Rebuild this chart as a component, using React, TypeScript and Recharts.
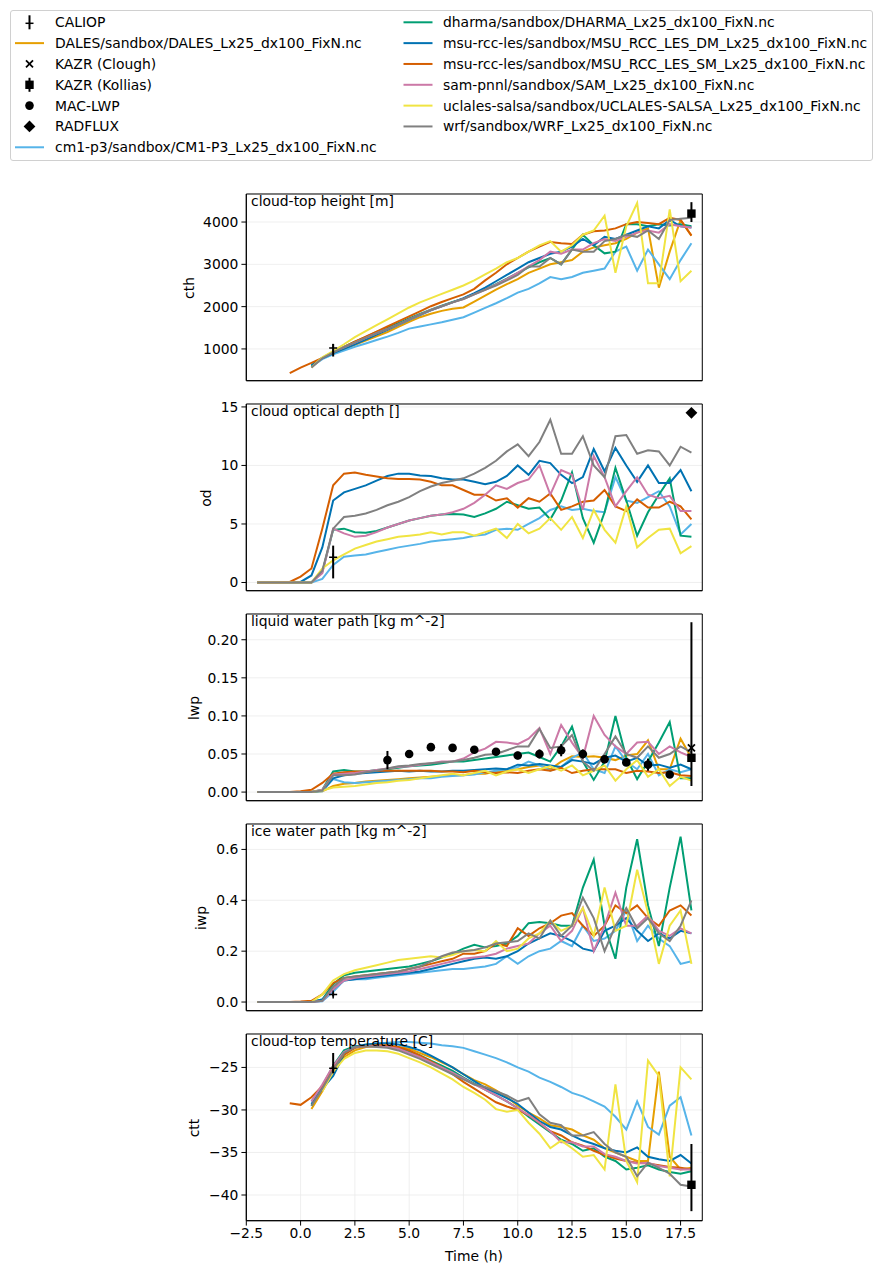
import React from 'react';
import { ComposedChart, Line, Scatter, ErrorBar, XAxis, YAxis, CartesianGrid, ReferenceArea } from 'recharts';

const _ = null;

// time axis (hours), shared by every panel
const hours = [-2, -1.5, -1, -0.5, 0, 0.5, 1, 1.5, 2, 2.5, 3, 3.5, 4, 4.5, 5, 5.5, 6, 6.5, 7, 7.5, 8, 8.5, 9, 9.5, 10, 10.5, 11, 11.5, 12, 12.5, 13, 13.5, 14, 14.5, 15, 15.5, 16, 16.5, 17, 17.5, 18];
const xTicks = [-2.5, 0, 2.5, 5, 7.5, 10, 12.5, 15, 17.5];

// cloud-top height [m]
const cthDales = [_, _, _, _, _, 580, 780, 900, 1000, 1100, 1200, 1300, 1400, 1520, 1640, 1750, 1830, 1900, 1950, 1980, 2120, 2260, 2400, 2530, 2650, 2800, 2900, 3000, 3050, 3100, 3300, 3400, 3450, 3500, 3600, 3750, 3850, 2450, 3300, 4050, 3680];
const cthCm1 = [_, _, _, _, _, 580, 760, 870, 960, 1050, 1130, 1210, 1290, 1380, 1480, 1530, 1580, 1630, 1690, 1750, 1860, 1970, 2080, 2200, 2330, 2420, 2550, 2700, 2650, 2700, 2800, 2850, 2900, 3300, 3420, 2850, 3350, 3000, 2650, 3100, 3500];
const cthDharma = [_, _, _, _, _, 600, 790, 930, 1050, 1170, 1280, 1400, 1500, 1610, 1720, 1830, 1930, 2020, 2110, 2190, 2300, 2410, 2530, 2660, 2800, 2930, 3050, 3150, 3000, 3350, 3700, 3450, 3260, 3300, 3950, 3950, 3900, 3950, 3920, 3950, 3900];
const cthMsuDm = [_, _, _, _, _, 620, 780, 900, 1000, 1110, 1220, 1340, 1450, 1570, 1690, 1800, 1910, 2010, 2100, 2200, 2320, 2450, 2600, 2750, 2900, 3050, 3150, 3250, 3300, 3420, 3600, 3450, 3650, 3600, 3700, 3800, 3900, 3850, 4050, 3900, 3870];
const cthMsuSm = [_, _, _, 430, 560, 670, 790, 920, 1050, 1170, 1290, 1410, 1530, 1650, 1770, 1890, 2010, 2110, 2200, 2290, 2420, 2620, 2800, 3000, 3150, 3300, 3420, 3530, 3500, 3480, 3700, 3780, 3800, 3850, 3950, 4000, 3980, 3950, 4100, 4050, 3680];
const cthSam = [_, _, _, _, _, 560, 790, 930, 1040, 1150, 1260, 1370, 1470, 1580, 1700, 1810, 1920, 2010, 2100, 2180, 2290, 2400, 2520, 2650, 2800, 2950, 3100, 3300, 3250, 3350, 3350, 3500, 3600, 3550, 3650, 3750, 3800, 3750, 3950, 3900, 3870];
const cthUclales = [_, _, _, _, _, 560, 800, 950, 1110, 1280, 1420, 1560, 1700, 1840, 1980, 2100, 2200, 2300, 2400, 2500, 2620, 2760, 2900, 3050, 3150, 3300, 3450, 3550, 3300, 3450, 3700, 3800, 4150, 2800, 3900, 4450, 2550, 2550, 4300, 2600, 2850];
const cthWrf = [_, _, _, _, _, 560, 780, 920, 1040, 1150, 1260, 1370, 1470, 1580, 1700, 1810, 1920, 2010, 2100, 2180, 2290, 2400, 2500, 2620, 2750, 2950, 2950, 3150, 3000, 3350, 3300, 3300, 3550, 3600, 3700, 3650, 3800, 3600, 4050, 4080, 4100];

// cloud optical depth []
const odCm1 = [0, 0, 0, 0, 0, 0, 0.3, 1.5, 2.2, 2.3, 2.4, 2.6, 2.8, 3.0, 3.15, 3.3, 3.5, 3.6, 3.7, 3.8, 4.0, 4.1, 4.5, 4.6, 4.5, 5.0, 5.5, 6.2, 6.5, 6.2, 6.3, 6.1, 6.0, 9.0, 7.0, 6.8, 7.3, 7.8, 6.5, 4.1, 5.0];
const odDharma = [0, 0, 0, 0, 0, 0, 0.9, 4.5, 4.6, 4.3, 4.25, 4.4, 4.7, 5.0, 5.3, 5.5, 5.7, 5.8, 5.85, 5.8, 5.6, 5.9, 6.3, 6.9, 6.6, 6.3, 6.4, 5.4, 7.0, 9.4, 5.5, 3.4, 6.0, 9.8, 7.0, 4.0, 6.0, 7.5, 8.9, 4.0, 3.9];
const odMsuDm = [0, 0, 0, 0, 0.05, 0.6, 3.0, 7.0, 7.7, 8.0, 8.3, 8.7, 9.1, 9.3, 9.3, 9.15, 9.1, 8.9, 8.8, 8.8, 8.6, 8.4, 8.6, 9.1, 10.0, 9.2, 10.4, 10.2, 9.2, 8.5, 9.0, 11.4, 9.5, 11.5, 10.0, 8.6, 10.0, 8.5, 8.5, 9.6, 7.8];
const odMsuSm = [0, 0, 0, 0.05, 0.5, 1.2, 4.6, 8.3, 9.3, 9.4, 9.2, 9.05, 8.9, 8.85, 8.85, 8.8, 8.6, 8.3, 8.3, 7.9, 7.5, 7.5, 7.0, 7.2, 6.4, 7.2, 6.9, 7.6, 6.2, 6.5, 6.9, 7.0, 7.9, 6.5, 6.1, 7.1, 6.4, 6.4, 6.9, 6.5, 5.4];
const odSam = [0, 0, 0, 0, 0, 0, 0.8, 4.6, 4.2, 3.9, 4.0, 4.3, 4.7, 5.0, 5.3, 5.5, 5.7, 5.8, 6.0, 6.3, 6.8, 7.5, 8.3, 8.0, 8.5, 8.8, 10.0, 7.5, 9.6, 9.2, 6.2, 10.8, 9.0, 6.5, 7.8, 9.0, 7.5, 7.2, 7.4, 6.1, 6.1];
const odUclales = [0, 0, 0, 0, 0, 0, 1.2, 1.9, 2.4, 2.9, 3.2, 3.5, 3.7, 3.9, 4.0, 4.1, 4.3, 4.1, 4.3, 4.3, 4.0, 4.3, 4.6, 3.8, 5.0, 4.2, 4.6, 5.5, 4.5, 5.6, 3.8, 6.2, 4.5, 3.4, 6.5, 3.0, 3.8, 4.5, 4.6, 2.5, 3.1];
const odWrf = [0, 0, 0, 0, 0, 0, 1.0, 4.6, 5.6, 5.7, 5.9, 6.2, 6.6, 6.9, 7.3, 7.8, 8.2, 8.5, 8.7, 8.9, 9.3, 9.8, 10.4, 11.2, 11.8, 10.8, 12.0, 13.9, 11.0, 11.0, 12.5, 10.0, 9.0, 12.5, 12.6, 11.0, 11.3, 11.2, 10.0, 11.6, 11.1];

// liquid water path [kg m^-2]
const lwpDales = [0, 0, 0, 0, 0, 0, 0.001, 0.008, 0.011, 0.012, 0.014, 0.015, 0.016, 0.017, 0.018, 0.019, 0.020, 0.021, 0.022, 0.022, 0.024, 0.024, 0.027, 0.028, 0.030, 0.033, 0.035, 0.030, 0.040, 0.047, 0.046, 0.047, 0.045, 0.042, 0.048, 0.050, 0.068, 0.030, 0.030, 0.070, 0.045];
const lwpCm1 = [0, 0, 0, 0, 0, 0, 0.001, 0.017, 0.013, 0.012, 0.013, 0.014, 0.015, 0.016, 0.017, 0.018, 0.018, 0.020, 0.021, 0.022, 0.023, 0.026, 0.028, 0.030, 0.033, 0.040, 0.035, 0.028, 0.033, 0.045, 0.052, 0.030, 0.025, 0.060, 0.040, 0.030, 0.050, 0.022, 0.030, 0.026, 0.030];
const lwpDharma = [0, 0, 0, 0, 0, 0, 0.003, 0.027, 0.029, 0.027, 0.027, 0.029, 0.030, 0.032, 0.034, 0.035, 0.036, 0.038, 0.040, 0.040, 0.042, 0.044, 0.046, 0.048, 0.050, 0.052, 0.046, 0.040, 0.060, 0.086, 0.040, 0.016, 0.040, 0.100, 0.045, 0.017, 0.040, 0.065, 0.092, 0.018, 0.018];
const lwpMsuDm = [0, 0, 0, 0, 0, 0, 0.002, 0.018, 0.022, 0.024, 0.025, 0.026, 0.027, 0.028, 0.027, 0.028, 0.027, 0.027, 0.028, 0.028, 0.029, 0.030, 0.031, 0.030, 0.036, 0.035, 0.037, 0.035, 0.033, 0.042, 0.040, 0.037, 0.045, 0.048, 0.040, 0.045, 0.035, 0.036, 0.032, 0.036, 0.030];
const lwpMsuSm = [0, 0, 0, 0, 0.001, 0.003, 0.012, 0.024, 0.026, 0.027, 0.027, 0.028, 0.028, 0.028, 0.028, 0.028, 0.028, 0.027, 0.027, 0.026, 0.028, 0.026, 0.025, 0.026, 0.025, 0.028, 0.030, 0.028, 0.032, 0.025, 0.028, 0.030, 0.030, 0.030, 0.025, 0.028, 0.027, 0.025, 0.026, 0.022, 0.021];
const lwpSam = [0, 0, 0, 0, 0, 0, 0.003, 0.023, 0.024, 0.025, 0.027, 0.029, 0.031, 0.033, 0.034, 0.036, 0.038, 0.040, 0.040, 0.044, 0.052, 0.057, 0.066, 0.065, 0.063, 0.070, 0.084, 0.050, 0.088, 0.065, 0.045, 0.100, 0.075, 0.060, 0.050, 0.065, 0.066, 0.050, 0.060, 0.052, 0.046];
const lwpUclales = [0, 0, 0, 0, 0, 0, 0.002, 0.006, 0.007, 0.008, 0.010, 0.012, 0.013, 0.015, 0.016, 0.018, 0.020, 0.022, 0.024, 0.022, 0.025, 0.028, 0.022, 0.027, 0.030, 0.025, 0.030, 0.034, 0.028, 0.035, 0.022, 0.028, 0.035, 0.015, 0.030, 0.042, 0.020, 0.030, 0.008, 0.020, 0.015];
const lwpWrf = [0, 0, 0, 0, 0, 0, 0.002, 0.022, 0.022, 0.023, 0.026, 0.028, 0.031, 0.034, 0.035, 0.037, 0.038, 0.039, 0.040, 0.042, 0.045, 0.049, 0.050, 0.055, 0.060, 0.060, 0.083, 0.058, 0.060, 0.075, 0.040, 0.028, 0.050, 0.073, 0.050, 0.045, 0.060, 0.045, 0.050, 0.060, 0.052];

// ice water path [kg m^-2]
const iwpCm1 = [0, 0, 0, 0, 0, 0, 0.003, 0.04, 0.085, 0.09, 0.09, 0.095, 0.1, 0.105, 0.11, 0.115, 0.12, 0.125, 0.13, 0.13, 0.135, 0.14, 0.15, 0.18, 0.15, 0.18, 0.2, 0.21, 0.24, 0.22, 0.3, 0.24, 0.25, 0.28, 0.36, 0.24, 0.3, 0.25, 0.22, 0.15, 0.16];
const iwpDharma = [0, 0, 0, 0, 0, 0, 0.01, 0.07, 0.105, 0.115, 0.12, 0.125, 0.13, 0.135, 0.14, 0.15, 0.16, 0.175, 0.19, 0.21, 0.225, 0.215, 0.22, 0.23, 0.26, 0.31, 0.315, 0.31, 0.3, 0.3, 0.45, 0.56, 0.3, 0.17, 0.45, 0.64, 0.38, 0.22, 0.45, 0.65, 0.36];
const iwpMsuDm = [0, 0, 0, 0, 0, 0, 0.01, 0.05, 0.085, 0.09, 0.095, 0.1, 0.105, 0.11, 0.115, 0.12, 0.13, 0.14, 0.15, 0.16, 0.17, 0.175, 0.17, 0.18, 0.2, 0.23, 0.25, 0.27, 0.26, 0.24, 0.21, 0.2, 0.28, 0.3, 0.33, 0.28, 0.24, 0.27, 0.25, 0.28, 0.27];
const iwpMsuSm = [0, 0, 0, 0, 0.002, 0.005, 0.03, 0.075, 0.095, 0.1, 0.105, 0.11, 0.115, 0.12, 0.13, 0.14, 0.15, 0.16, 0.17, 0.19, 0.19, 0.2, 0.23, 0.22, 0.29, 0.26, 0.29, 0.31, 0.34, 0.35, 0.3, 0.26, 0.3, 0.38, 0.35, 0.38, 0.33, 0.3, 0.36, 0.38, 0.34];
const iwpSam = [0, 0, 0, 0, 0, 0, 0.005, 0.05, 0.085, 0.095, 0.1, 0.105, 0.11, 0.115, 0.12, 0.13, 0.14, 0.15, 0.16, 0.17, 0.175, 0.18, 0.19, 0.21, 0.22, 0.23, 0.27, 0.3, 0.24, 0.28, 0.37, 0.2, 0.3, 0.43, 0.3, 0.3, 0.34, 0.28, 0.26, 0.29, 0.27];
const iwpUclales = [0, 0, 0, 0, 0, 0, 0.03, 0.085, 0.11, 0.125, 0.135, 0.145, 0.155, 0.165, 0.17, 0.175, 0.18, 0.175, 0.185, 0.2, 0.205, 0.2, 0.24, 0.2, 0.21, 0.25, 0.27, 0.32, 0.28, 0.3, 0.37, 0.26, 0.45, 0.28, 0.3, 0.52, 0.35, 0.15, 0.3, 0.36, 0.15];
const iwpWrf = [0, 0, 0, 0, 0, 0, 0.005, 0.06, 0.095, 0.1, 0.105, 0.11, 0.115, 0.12, 0.13, 0.14, 0.16, 0.18, 0.195, 0.2, 0.205, 0.215, 0.23, 0.235, 0.24, 0.27, 0.25, 0.32, 0.26, 0.3, 0.41, 0.33, 0.2, 0.3, 0.37, 0.29, 0.33, 0.27, 0.24, 0.3, 0.4];

// cloud-top temperature [C]
const cttDales = [_, _, _, _, _, -29.9, -27.8, -25.5, -23.8, -23.0, -22.6, -22.5, -22.5, -22.6, -22.8, -23.3, -23.8, -24.4, -25.0, -25.8, -26.5, -27.0, -27.7, -28.5, -29.5, -30.3, -31.0, -31.8, -32.0, -32.3, -33.0, -33.5, -34.5, -35.0, -35.5, -36.0, -36.0, -25.5, -35.5, -37.0, -36.8];
const cttCm1 = [_, _, _, _, _, -29.0, -27.3, -25.0, -23.3, -22.7, -22.4, -22.2, -22.1, -22.0, -22.0, -22.1, -22.2, -22.4, -22.5, -22.7, -23.1, -23.5, -23.9, -24.4, -25.0, -25.5, -26.2, -26.7, -27.3, -28.0, -28.4, -29.0, -29.6, -30.8, -32.3, -29.0, -32.0, -32.9, -29.5, -28.5, -33.0];
const cttDharma = [_, _, _, _, _, -29.5, -27.2, -24.8, -23.0, -22.5, -22.4, -22.4, -22.5, -22.7, -23.1, -23.6, -24.2, -24.8, -25.4, -26.2, -26.9, -27.6, -28.3, -29.0, -29.8, -30.8, -31.7, -32.6, -33.5, -34.0, -34.8, -34.5, -35.5, -36.0, -37.0, -36.8, -36.5, -37.0, -37.3, -37.5, -37.2];
const cttMsuDm = [_, _, _, _, _, -29.3, -27.5, -26.0, -23.5, -22.6, -22.3, -22.2, -22.2, -22.3, -22.6, -23.0, -23.6, -24.3, -25.0, -25.8, -26.6, -27.4, -28.0, -28.6, -29.3, -30.3, -31.3, -32.0, -32.3, -33.0, -33.6, -34.0, -34.5, -34.8, -35.0, -34.4, -35.5, -35.8, -36.0, -35.3, -36.3];
const cttMsuSm = [_, _, _, -29.2, -29.4, -28.5, -27.2, -25.0, -23.5, -22.7, -22.5, -22.4, -22.4, -22.6, -23.0, -23.6, -24.3, -25.0, -25.8, -26.7, -27.5, -28.3, -29.1, -29.6, -30.0, -30.6, -31.5, -32.5, -33.0, -33.8, -34.2, -34.8, -35.3, -35.7, -36.0, -36.2, -36.3, -36.5, -36.7, -36.8, -37.0];
const cttSam = [_, _, _, _, _, -29.0, -27.0, -24.8, -23.2, -22.6, -22.5, -22.5, -22.6, -22.8, -23.3, -23.8, -24.4, -25.0, -25.6, -26.3, -27.0, -27.6, -28.3, -29.0, -29.8, -30.6, -31.5, -32.5, -33.8, -33.8, -34.3, -34.3, -35.2, -35.5, -36.0, -36.3, -36.2, -36.6, -36.8, -37.0, -37.0];
const cttUclales = [_, _, _, _, _, _, -27.8, -25.5, -24.0, -23.3, -23.0, -23.0, -23.1, -23.4, -23.9, -24.4, -25.0, -25.7, -26.4, -27.3, -28.0, -28.8, -29.9, -30.2, -30.0, -31.5, -32.8, -34.5, -33.6, -34.5, -35.5, -35.3, -37.0, -27.0, -36.0, -38.5, -24.2, -26.0, -37.8, -25.0, -26.4];
const cttWrf = [_, _, _, _, _, -29.5, -27.5, -25.3, -23.3, -22.6, -22.5, -22.6, -22.7, -23.0, -23.5, -24.0, -24.6, -25.2, -25.8, -26.4, -27.0, -27.3, -27.8, -28.3, -29.0, -28.6, -30.5, -31.5, -31.8, -33.0, -33.0, -32.6, -34.0, -35.0, -35.5, -37.8, -36.2, -36.8, -37.5, -38.8, -39.0];

// observations
const macHours = [4, 5, 6, 7, 8, 9, 10, 11, 12, 13, 14, 15, 16, 17];
const macLwp = [0.042, 0.050, 0.059, 0.058, 0.0555, 0.053, 0.048, 0.050, 0.055, 0.050, 0.043, 0.039, 0.036, 0.023];
const macErr = [0.012, 0.003, 0.005, 0.003, 0.003, 0.003, 0.005, 0.006, 0.008, 0.006, 0.004, 0.004, 0.008, 0.003];
const caliopCth = { t: 1.5, v: 1020, err: [200, 100] };
const caliopOd = { t: 1.5, v: 2.15, err: [1.8, 1.0] };
const caliopIwp = { t: 1.5, v: 0.03, err: 0.008 };
const caliopCtt = { t: 1.5, v: -25.1, err: [0.6, 1.8] };
const kolliasCth = { t: 18, v: 4200, err: [200, 270] };
const kolliasLwp = { t: 18, v: 0.045, err: [0.037, 0.178] };
const kolliasCtt = { t: 18, v: -38.8, err: [3.1, 4.8] };
const cloughLwp = { t: 18, v: 0.058 };
const radfluxOd = { t: 18, v: 14.5 };

const MODELS = [
  { key: 'dales', label: 'DALES/sandbox/DALES_Lx25_dx100_FixN.nc', color: '#e69f00' },
  { key: 'cm1', label: 'cm1-p3/sandbox/CM1-P3_Lx25_dx100_FixN.nc', color: '#56b4e9' },
  { key: 'dharma', label: 'dharma/sandbox/DHARMA_Lx25_dx100_FixN.nc', color: '#009e73' },
  { key: 'msuDm', label: 'msu-rcc-les/sandbox/MSU_RCC_LES_DM_Lx25_dx100_FixN.nc', color: '#0072b2' },
  { key: 'msuSm', label: 'msu-rcc-les/sandbox/MSU_RCC_LES_SM_Lx25_dx100_FixN.nc', color: '#d55e00' },
  { key: 'sam', label: 'sam-pnnl/sandbox/SAM_Lx25_dx100_FixN.nc', color: '#cc79a7' },
  { key: 'uclales', label: 'uclales-salsa/sandbox/UCLALES-SALSA_Lx25_dx100_FixN.nc', color: '#f0e442' },
  { key: 'wrf', label: 'wrf/sandbox/WRF_Lx25_dx100_FixN.nc', color: '#808080' },
];

const FONT = 'DejaVu Sans, sans-serif';
const FS = 13.9;
const PLOT_L = 246.3;
const PLOT_R = 702.3;
const PLOT_H = 186.7;
const M_TOP = 12;
const minus = (s: string) => s.replace('-', '\u2212');

const cross = (p: any) => (
  <g>
    <line x1={p.cx - 4} x2={p.cx + 4} y1={p.cy} y2={p.cy} stroke="#000" strokeWidth={1.5} />
    <line x1={p.cx} x2={p.cx} y1={p.cy - 4} y2={p.cy + 4} stroke="#000" strokeWidth={1.5} />
  </g>
);
const square = (p: any) => <rect x={p.cx - 4.2} y={p.cy - 4.2} width={8.4} height={8.4} fill="#000" />;
const circle = (p: any) => <circle cx={p.cx} cy={p.cy} r={4.3} fill="#000" />;
const diamond = (p: any) => (
  <polygon points={`${p.cx},${p.cy - 5.9} ${p.cx + 5.9},${p.cy} ${p.cx},${p.cy + 5.9} ${p.cx - 5.9},${p.cy}`} fill="#000" />
);
const xMark = (p: any) => (
  <g stroke="#000" strokeWidth={1.8}>
    <line x1={p.cx - 3.5} x2={p.cx + 3.5} y1={p.cy - 3.5} y2={p.cy + 3.5} />
    <line x1={p.cx - 3.5} x2={p.cx + 3.5} y1={p.cy + 3.5} y2={p.cy - 3.5} />
  </g>
);

const panels = [
  {
    title: 'cloud-top height [m]', ylabel: 'cth', labelX: 189, top: 194.3,
    domain: [249, 4663], ticks: [1000, 2000, 3000, 4000], fmt: (v: number) => String(v),
    series: { dales: cthDales, cm1: cthCm1, dharma: cthDharma, msuDm: cthMsuDm, msuSm: cthMsuSm, sam: cthSam, uclales: cthUclales, wrf: cthWrf },
    obs: [{ data: [caliopCth], shape: cross }, { data: [kolliasCth], shape: square }],
  },
  {
    title: 'cloud optical depth []', ylabel: 'od', labelX: 206, top: 404.3,
    domain: [-0.7, 15.25], ticks: [0, 5, 10, 15], fmt: (v: number) => String(v),
    series: { cm1: odCm1, dharma: odDharma, msuDm: odMsuDm, msuSm: odMsuSm, sam: odSam, uclales: odUclales, wrf: odWrf },
    obs: [{ data: [caliopOd], shape: cross }, { data: [radfluxOd], shape: diamond }],
  },
  {
    title: 'liquid water path [kg m^-2]', ylabel: 'lwp', labelX: 194, top: 614.3,
    domain: [-0.0113, 0.2338], ticks: [0, 0.05, 0.1, 0.15, 0.2], fmt: (v: number) => v.toFixed(2),
    series: { dales: lwpDales, cm1: lwpCm1, dharma: lwpDharma, msuDm: lwpMsuDm, msuSm: lwpMsuSm, sam: lwpSam, uclales: lwpUclales, wrf: lwpWrf },
    obs: [
      { data: macHours.map((t, i) => ({ t, v: macLwp[i], err: macErr[i] })), shape: circle },
      { data: [kolliasLwp], shape: square },
      { data: [cloughLwp], shape: xMark },
    ],
  },
  {
    title: 'ice water path [kg m^-2]', ylabel: 'iwp', labelX: 201, top: 824.3,
    domain: [-0.034, 0.70], ticks: [0, 0.2, 0.4, 0.6], fmt: (v: number) => v.toFixed(1),
    series: { cm1: iwpCm1, dharma: iwpDharma, msuDm: iwpMsuDm, msuSm: iwpMsuSm, sam: iwpSam, uclales: iwpUclales, wrf: iwpWrf },
    obs: [{ data: [caliopIwp], shape: cross }],
  },
  {
    title: 'cloud-top temperature [C]', ylabel: 'ctt', labelX: 194, top: 1034.3,
    domain: [-43.02, -21.07], ticks: [-40, -35, -30, -25], fmt: (v: number) => minus(String(v)),
    series: { dales: cttDales, cm1: cttCm1, dharma: cttDharma, msuDm: cttMsuDm, msuSm: cttMsuSm, sam: cttSam, uclales: cttUclales, wrf: cttWrf },
    obs: [{ data: [caliopCtt], shape: cross }, { data: [kolliasCtt], shape: square }],
  },
];

const tickStyle = { fill: '#000', fontSize: FS, fontFamily: FONT };

function Panel({ p, last }: { p: any; last: boolean }) {
  const rows = hours.map((t, i) => {
    const r: any = { t };
    for (const k of Object.keys(p.series)) r[k] = p.series[k][i];
    return r;
  });
  const xh = last ? 30 : 8;
  return (
    <div style={{ position: 'absolute', left: 0, top: p.top - M_TOP }}>
      <ComposedChart
        width={883}
        height={M_TOP + PLOT_H + xh}
        data={rows}
        margin={{ top: M_TOP, right: 883 - PLOT_R, bottom: 0, left: 0 }}
      >
        <CartesianGrid stroke="#ebebeb" strokeWidth={0.8} />
        <XAxis
          type="number" dataKey="t" domain={[-2.5, 18.5]} ticks={xTicks} allowDataOverflow
          height={xh} tickSize={4.9} tickMargin={3} interval={0} stroke="#000"
          tick={last ? tickStyle : false}
          tickFormatter={(v: number) => minus(v.toFixed(1))}
        />
        <YAxis
          type="number" domain={p.domain} ticks={p.ticks} allowDataOverflow
          width={PLOT_L} tickSize={4.9} tickMargin={3} interval={0} stroke="#000"
          tick={tickStyle} tickFormatter={p.fmt}
        />
        <ReferenceArea x1={-2.5} x2={18.5} y1={p.domain[0]} y2={p.domain[1]} fill="none" stroke="#000" strokeWidth={1} />
        {MODELS.filter((m) => p.series[m.key]).map((m) => (
          <Line
            key={m.key} dataKey={m.key} type="linear" stroke={m.color} strokeWidth={2}
            dot={false} activeDot={false} connectNulls={false} isAnimationActive={false}
          />
        ))}
        {p.obs.map((o: any, i: number) => (
          <Scatter key={i} data={o.data} dataKey="v" shape={o.shape} isAnimationActive={false}>
            {o.data[0].err !== undefined && (
              <ErrorBar dataKey="err" direction="y" width={0} stroke="#000" strokeWidth={2} />
            )}
          </Scatter>
        ))}
      </ComposedChart>
    </div>
  );
}

const legendLeft = [
  { label: 'CALIOP', mark: 'caliop' },
  { label: MODELS[0].label, color: MODELS[0].color },
  { label: 'KAZR (Clough)', mark: 'x' },
  { label: 'KAZR (Kollias)', mark: 'kollias' },
  { label: 'MAC-LWP', mark: 'circle' },
  { label: 'RADFLUX', mark: 'diamond' },
  { label: MODELS[1].label, color: MODELS[1].color },
];
const legendRight = MODELS.slice(2).map((m) => ({ label: m.label, color: m.color }));

function Handle({ e, x, y }: { e: any; x: number; y: number }) {
  const cx = x + 14.5;
  if (e.color) return <line x1={x} x2={x + 29} y1={y} y2={y} stroke={e.color} strokeWidth={2} />;
  if (e.mark === 'caliop') return (
    <g>
      <line x1={cx} x2={cx} y1={y - 7} y2={y + 7} stroke="#000" strokeWidth={2} />
      <line x1={cx - 4} x2={cx + 4} y1={y + 1} y2={y + 1} stroke="#000" strokeWidth={1.5} />
    </g>
  );
  if (e.mark === 'x') return xMark({ cx, cy: y });
  if (e.mark === 'kollias') return (
    <g>
      <line x1={cx} x2={cx} y1={y - 7} y2={y + 7} stroke="#000" strokeWidth={2} />
      {square({ cx, cy: y })}
    </g>
  );
  if (e.mark === 'circle') return circle({ cx, cy: y });
  return diamond({ cx, cy: y });
}

function Legend() {
  const rowY = (i: number) => 22.3 + i * 20.83;
  return (
    <svg width={883} height={170} style={{ position: 'absolute', left: 0, top: 0 }}>
      <rect x={10.5} y={10.5} width={862} height={150} rx={2.5} fill="#fff" stroke="#d0d0d0" />
      {legendLeft.map((e, i) => (
        <g key={'l' + i}>
          <Handle e={e} x={15} y={rowY(i)} />
          <text x={55} y={rowY(i)} dominantBaseline="central" fontSize={FS} fontFamily={FONT} fill="#000">{e.label}</text>
        </g>
      ))}
      {legendRight.map((e, i) => (
        <g key={'r' + i}>
          <Handle e={e} x={403.5} y={rowY(i)} />
          <text x={443} y={rowY(i)} dominantBaseline="central" fontSize={FS} fontFamily={FONT} fill="#000">{e.label}</text>
        </g>
      ))}
    </svg>
  );
}

const textBase: React.CSSProperties = {
  position: 'absolute', fontFamily: FONT, fontSize: FS, color: '#000', whiteSpace: 'nowrap', lineHeight: '16px',
};

export default function App() {
  return (
    <div style={{ position: 'absolute', left: 0, top: 0, width: 883, height: 1274, background: '#fff', fontFamily: FONT }}>
      <Legend />
      {panels.map((p, i) => (
        <React.Fragment key={p.ylabel}>
          <Panel p={p} last={i === panels.length - 1} />
          <div style={{ ...textBase, left: 251, top: p.top - 1 }}>{p.title}</div>
          <div style={{ ...textBase, left: p.labelX, top: p.top + PLOT_H / 2, transform: 'translate(-50%, -50%) rotate(-90deg)' }}>{p.ylabel}</div>
        </React.Fragment>
      ))}
      <div style={{ ...textBase, left: 474, top: 1256, transform: 'translate(-50%, -50%)' }}>Time (h)</div>
    </div>
  );
}
